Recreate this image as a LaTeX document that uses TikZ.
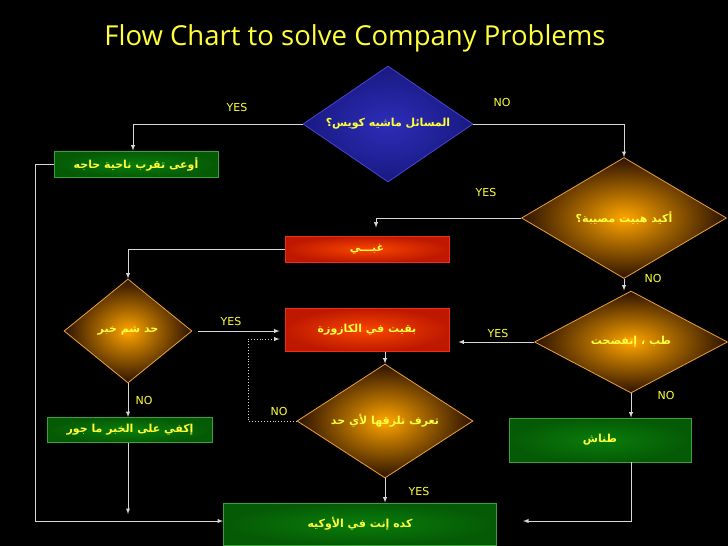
\documentclass[tikz,border=0pt]{standalone}
\usepackage{fontspec}
\setmainfont{DejaVu Sans}
\newfontfamily\arabicfont[Script=Arabic]{DejaVu Sans}
\newfontfamily\titlefont{Open Sans}
\TeXXeTstate=1
\usepackage{tikz}
\usetikzlibrary{shapes.geometric}

\definecolor{txtyellow}{RGB}{255,255,60}
\definecolor{linegray}{RGB}{215,215,215}
\definecolor{orangein}{RGB}{255,165,0}
\definecolor{orangeout}{RGB}{45,18,0}
\definecolor{orangeedge}{RGB}{235,160,60}
\definecolor{bluein}{RGB}{45,45,185}
\definecolor{blueout}{RGB}{25,25,130}
\definecolor{blueedge}{RGB}{70,70,210}
\definecolor{redin}{RGB}{250,70,0}
\definecolor{redout}{RGB}{190,25,0}
\definecolor{rededge}{RGB}{240,45,25}
\definecolor{greenin}{RGB}{10,125,10}
\definecolor{greenout}{RGB}{5,90,5}
\definecolor{greenedge}{RGB}{60,160,60}

\newcommand{\artxt}[1]{{\arabicfont\bfseries\fontsize{11}{13}\selectfont\beginR #1\endR}}

\begin{document}
\begin{tikzpicture}[x=1pt,y=-1pt,
  ask/.style={diamond,inner sep=0pt,draw=orangeedge,line width=0.8pt,inner color=orangein,outer color=orangeout,text=txtyellow},
  askblue/.style={ask,draw=blueedge,inner color=bluein,outer color=blueout},
  redbox/.style={rectangle,inner sep=0pt,draw=rededge,line width=0.8pt,inner color=redin,outer color=redout,text=txtyellow},
  greenbox/.style={rectangle,inner sep=0pt,draw=greenedge,line width=0.8pt,inner color=greenin,outer color=greenout,text=txtyellow},
  flow/.style={-latex,draw=linegray,line width=0.9pt},
  yesno/.style={text=txtyellow,font=\fontsize{11}{13}\selectfont}]
\fill[black] (0,0) rectangle (728,546);

\node[text=txtyellow,font=\titlefont\fontsize{27.5}{32}\selectfont] (title) at (355,38) {Flow Chart to solve Company Problems};

%%% DIAMONDS %%%
\node[askblue,aspect=1.47,minimum width=170pt,minimum height=116pt] (d1) at (388,124) {\artxt{المسائل ماشيه كويس؟}};
\node[ask,aspect=1.69,minimum width=205pt,minimum height=121pt] (d2) at (624,218) {\artxt{أكيد هبيت مصيبة؟}};
\node[ask,aspect=1.23,minimum width=128pt,minimum height=104pt] (d3) at (128,331) {\artxt{حد شم خبر}};
\node[ask,aspect=1.89,minimum width=193pt,minimum height=102pt] (d5) at (631,342) {\artxt{طب ، إتفضحت}};
\node[ask,aspect=1.54,minimum width=176pt,minimum height=114pt] (d4) at (385,421) {\artxt{تعرف تلزقها لأي حد}};

%%% BOXES %%%
\node[greenbox,minimum width=164pt,minimum height=26pt] (b1) at (136,164) {\artxt{أوعى تقرب ناحية حاجه}};
\node[redbox,minimum width=164pt,minimum height=26pt] (r1) at (367,249) {\artxt{غبـــي}};
\node[redbox,minimum width=164pt,minimum height=43pt] (r2) at (367,330) {\artxt{بقيت في الكازوزة}};
\node[greenbox,minimum width=165pt,minimum height=25pt] (g1) at (130,430) {\artxt{إكفي على الخبر ما جور}};
\node[greenbox,minimum width=182pt,minimum height=44pt] (g2) at (600,440) {\artxt{طناش}};
\node[greenbox,minimum width=273pt,minimum height=42pt] (f) at (360,524) {\artxt{كده إنت في الأوكيه}};

\coordinate (nobend) at (248,421);
\coordinate (okin) at (523,521);
\coordinate (gdown) at (128,514);

%%% CONNECTORS %%%
\draw[flow] (d1.west) -| ([xshift=-3pt]b1.north);
\draw[flow] (d1.east) -| (d2.north);
\draw[flow] (d2.west) -| ([xshift=9pt,yshift=8pt]r1.north);
\draw[flow] (r1.west) -| (d3.north);
\draw[flow,shorten <=6pt,shorten >=5pt] (d3.east) -- (d3.east -| r2.west);
\draw[flow,shorten >=9pt] (d5.west) -- (d5.west -| r2.east);
\draw[flow,dotted,shorten >=5pt] (d4.west) -- (nobend) |- ([yshift=-9pt]r2.west);
\draw[flow] (d4.north |- r2.south) -- (d4.north);
\draw[flow] (d4.south) -- (d4.south |- f.north);
\draw[flow] (d2.south) -- (d2.south |- d5.north);
\draw[flow] (d5.south) -- (d5.south |- g2.north);
\draw[flow] (d5.south |- g2.south) |- (okin);
\draw[flow] (d3.south) -- (d3.south |- g1.north);
\draw[flow] (gdown |- g1.south) -- (gdown);
\draw[flow] (b1.west) -- ++(-18,0) |- ([yshift=3pt]f.west);

%%% LABELS %%%
\node[yesno] (l1) at (237,107) {YES};
\node[yesno] (l2) at (502,102) {NO};
\node[yesno] (l3) at (486,192) {YES};
\node[yesno] (l4) at (653,278) {NO};
\node[yesno] (l5) at (231,321) {YES};
\node[yesno] (l6) at (498,333) {YES};
\node[yesno] (l7) at (666,395) {NO};
\node[yesno] (l8) at (144,400) {NO};
\node[yesno] (l9) at (279,411) {NO};
\node[yesno] (l10) at (419,491) {YES};
\end{tikzpicture}
\end{document}
